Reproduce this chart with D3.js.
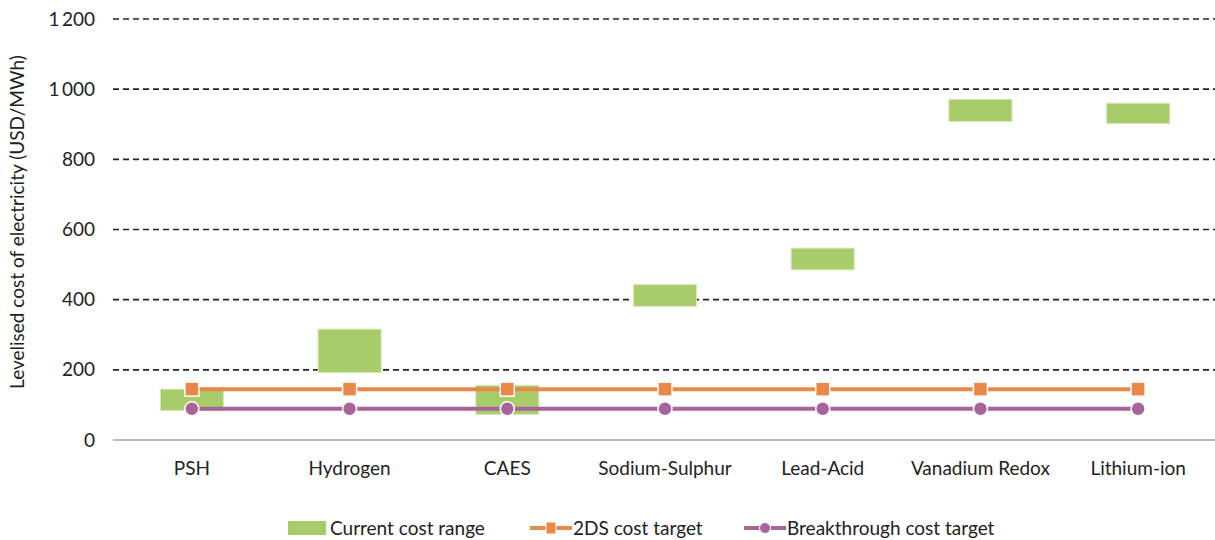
<!DOCTYPE html>
<html><head><meta charset="utf-8">
<script src="https://cdn.jsdelivr.net/npm/d3@7"></script>
<style>body{margin:0;background:#fff;} svg{display:block;} text{font-family:Lato,"Open Sans",sans-serif;fill:#222;}</style>
</head><body>
<svg id="c" width="1215" height="540"></svg>
<script>
const categories = ["PSH","Hydrogen","CAES","Sodium-Sulphur","Lead-Acid","Vanadium Redox","Lithium-ion"];
const rangeLow  = [84, 192, 73, 381, 485, 908, 902];
const rangeHigh = [145, 316, 156, 443, 547, 971, 960];
const target2DS = [145, 145, 145, 145, 145, 145, 145];
const breakthrough = [89, 89, 89, 89, 89, 89, 89];
const yTicks = [0,200,400,600,800,1000,1200];
const legendLabels = ["Current cost range","2DS cost target","Breakthrough cost target"];

(function(){
const svg = d3.select("#c");
const mL = 113, mR = 1217, mT = 19, mB = 440;
const FS = "19px";
const x = d3.scaleBand().domain(categories).range([mL, mR]);
const y = d3.scaleLinear().domain([0,1200]).range([mB, mT]);
const green = "#a9cc6a", orange = "#e8894a", purple = "#a8649a";
const fmt = v => d3.format(",")(v).replace(/,/g, "\u2009");

svg.append("g").selectAll("line").data(yTicks.filter(d=>d>0)).join("line")
  .attr("x1", mL).attr("x2", mR).attr("y1", d=>y(d)).attr("y2", d=>y(d))
  .attr("stroke", "#222").attr("stroke-width", 1.6).attr("stroke-dasharray", "6,4");
svg.append("line").attr("x1", mL).attr("x2", mR).attr("y1", y(0)).attr("y2", y(0))
  .attr("stroke", "#777").attr("stroke-width", 1);

svg.append("g").selectAll("text").data(yTicks).join("text")
  .attr("x", 95).attr("y", d=>y(d)).attr("dy", "0.35em").attr("text-anchor","end")
  .style("font-size",FS).text(d=>fmt(d));

svg.append("text").attr("transform", `translate(24,${222}) rotate(-90)`)
  .attr("text-anchor","middle").style("font-size",FS)
  .text("Levelised cost of electricity (USD/MWh)");

svg.append("g").selectAll("text").data(categories).join("text")
  .attr("x", d=>x(d)+x.bandwidth()/2).attr("y", 475).attr("text-anchor","middle")
  .style("font-size",FS).text(d=>d);

const bw = x.bandwidth()*0.4;
svg.append("g").selectAll("rect").data(categories).join("rect")
  .attr("x", d=>x(d)+x.bandwidth()/2-bw/2).attr("width", bw)
  .attr("y", (d,i)=>y(rangeHigh[i])).attr("height", (d,i)=>y(rangeLow[i])-y(rangeHigh[i]))
  .attr("fill", green).attr("stroke", "#d8e9bb").attr("stroke-width", 1);

const cx = d => x(d)+x.bandwidth()/2;
function series(vals, color, shape){
  const line = d3.line().x((d,i)=>cx(categories[i])).y(d=>y(d));
  svg.append("path").datum(vals).attr("d", line).attr("fill","none")
    .attr("stroke", color).attr("stroke-width", 4);
  const g = svg.append("g");
  if(shape==="square"){
    g.selectAll("rect").data(vals).join("rect")
      .attr("x",(d,i)=>cx(categories[i])-7).attr("y",d=>y(d)-7).attr("width",14).attr("height",14)
      .attr("fill",color).attr("stroke","#fff").attr("stroke-width",1.5);
  } else {
    g.selectAll("circle").data(vals).join("circle")
      .attr("cx",(d,i)=>cx(categories[i])).attr("cy",d=>y(d)).attr("r",7)
      .attr("fill",color).attr("stroke","#fff").attr("stroke-width",1.5);
  }
}
series(target2DS, orange, "square");
series(breakthrough, purple, "circle");

const ly = 528;
const lg = svg.append("g");
lg.append("rect").attr("x", 288).attr("y", ly-7).attr("width", 38).attr("height", 14).attr("fill", green);
lg.append("text").attr("x", 330).attr("y", ly).attr("dy","0.35em").style("font-size",FS).text(legendLabels[0]);
lg.append("line").attr("x1",530).attr("x2",572).attr("y1",ly).attr("y2",ly).attr("stroke",orange).attr("stroke-width",4);
lg.append("rect").attr("x",546).attr("y",ly-6).attr("width",10).attr("height",12).attr("fill",orange).attr("stroke","#fff").attr("stroke-width",1);
lg.append("text").attr("x", 573).attr("y", ly).attr("dy","0.35em").style("font-size",FS).text(legendLabels[1]);
lg.append("line").attr("x1",744).attr("x2",786).attr("y1",ly).attr("y2",ly).attr("stroke",purple).attr("stroke-width",4);
lg.append("circle").attr("cx",765).attr("cy",ly).attr("r",5.5).attr("fill",purple).attr("stroke","#fff").attr("stroke-width",1);
lg.append("text").attr("x", 787).attr("y", ly).attr("dy","0.35em").style("font-size",FS).text(legendLabels[2]);
})();
</script>
</body></html>
